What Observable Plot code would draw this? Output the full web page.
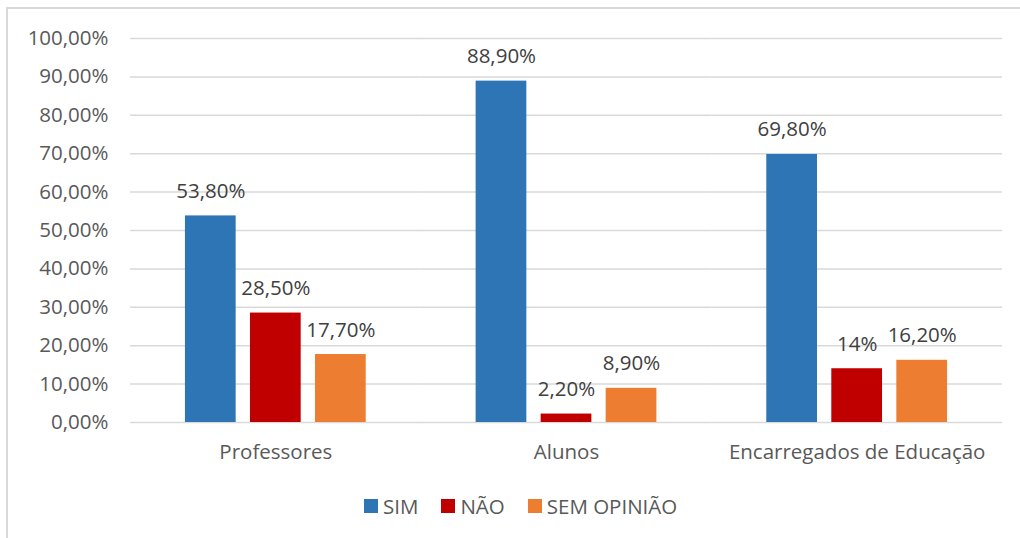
<!DOCTYPE html>
<html>
<head>
<meta charset="utf-8">
<script src="https://cdn.jsdelivr.net/npm/d3@7"></script>
<script src="https://cdn.jsdelivr.net/npm/@observablehq/plot@0.6"></script>
<style>
  html, body { margin: 0; padding: 0; background: #fff; }
  #wrap { position: relative; width: 1020px; height: 538px; overflow: hidden; font-family: "Open Sans", sans-serif; }
  #border { position: absolute; left: 6px; top: 7px; width: 1100px; height: 600px; border: 2px solid #D9D9D9; box-sizing: border-box; }
  #chart { position: absolute; left: 0; top: 0; }
  #legend { position: absolute; left: 364px; top: 492px; display: flex; align-items: center; font-size: 20.5px; color: #595959; }
  .item { display: flex; align-items: center; margin-right: 23px; }
  .sw { width: 14px; height: 14px; margin-right: 5px; }
</style>
</head>
<body>
<div id="wrap">
  <div id="border"></div>
  <div id="chart"></div>
  <div id="legend"></div>
</div>
<script>
const groups = ["Professores", "Alunos", "Encarregados de Educação"];
const series = ["SIM", "NÃO", "SEM OPINIÃO"];
const sim = [53.8, 88.9, 69.8];
const nao = [28.5, 2.2, 14];
const semOpiniao = [17.7, 8.9, 16.2];
const simLabels = ["53,80%", "88,90%", "69,80%"];
const naoLabels = ["28,50%", "2,20%", "14%"];
const semOpiniaoLabels = ["17,70%", "8,90%", "16,20%"];
const colors = ["#2E75B6", "#C00000", "#ED7D31"];
const yTicks = [0, 10, 20, 30, 40, 50, 60, 70, 80, 90, 100];

const valuesBySeries = [sim, nao, semOpiniao];
const labelsBySeries = [simLabels, naoLabels, semOpiniaoLabels];
const data = [];
groups.forEach((g, gi) => {
  series.forEach((s, si) => {
    data.push({group: g, series: s, value: valuesBySeries[si][gi], label: labelsBySeries[si][gi]});
  });
});

const fmt = d => d.toFixed(2).replace(".", ",") + "%";

const chart = Plot.plot({
  width: 1020,
  height: 470,
  marginTop: 38,
  marginBottom: 48,
  marginLeft: 130,
  marginRight: 18,
  style: {fontFamily: "'Open Sans', sans-serif", fontSize: "20.5px", color: "#595959", background: "transparent"},
  fx: {domain: groups, padding: 0, label: null, tickSize: 0, tickPadding: 22, round: false},
  x: {domain: series, axis: null, paddingInner: 0.22, paddingOuter: 0.845, round: false},
  y: {domain: [0, 100], ticks: yTicks, tickFormat: fmt, tickSize: 0, tickPadding: 22, label: null},
  color: {domain: series, range: colors},
  marks: [
    Plot.gridY(yTicks, {stroke: "#D9D9D9", strokeOpacity: 1, strokeWidth: 1.5}),
    Plot.barY(data, {fx: "group", x: "series", y: "value", fill: "series"}),
    Plot.text(data, {fx: "group", x: "series", y: "value", text: "label", lineAnchor: "bottom", dy: -18, fill: "#404040"})
  ]
});
document.getElementById("chart").appendChild(chart);

const legend = document.getElementById("legend");
series.forEach((s, i) => {
  const item = document.createElement("div");
  item.className = "item";
  const sw = document.createElement("span");
  sw.className = "sw";
  sw.style.background = colors[i];
  const t = document.createElement("span");
  t.textContent = s;
  item.appendChild(sw);
  item.appendChild(t);
  legend.appendChild(item);
});
</script>
</body>
</html>
